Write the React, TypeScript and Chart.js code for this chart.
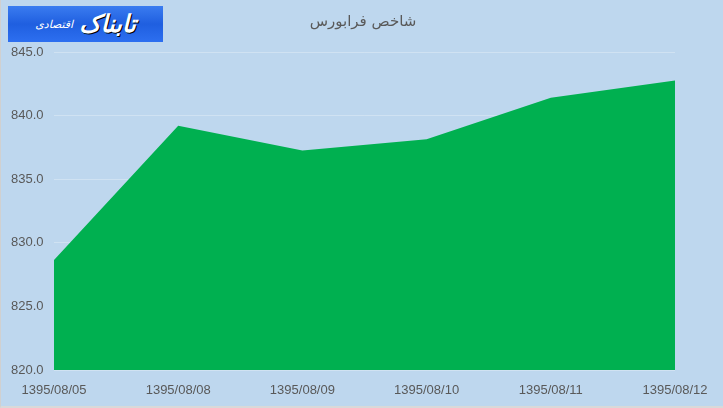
import Chart from "chart.js/auto";
import { useEffect, useRef } from "react";

const dates: string[] = [
  "1395/08/05",
  "1395/08/08",
  "1395/08/09",
  "1395/08/10",
  "1395/08/11",
  "1395/08/12",
];
const indexValues: number[] = [828.65, 839.2, 837.25, 838.15, 841.4, 842.75];
const yMin = 820;
const yMax = 845;
const yStep = 5;

const chartTitle = "شاخص فرابورس";
const logoText = "تابناک";
const logoSub = "اقتصادی";

const bgColor = "#BED7EE";
const textColor = "#595959";

export default function App() {
  const ref = useRef<HTMLCanvasElement | null>(null);

  useEffect(() => {
    document.body.style.margin = "0";
    if (!ref.current) return;
    const ctx = ref.current.getContext("2d");
    if (!ctx) return;

    const chart = new Chart(ctx, {
      type: "line",
      data: {
        labels: dates,
        datasets: [
          {
            data: indexValues,
            fill: "start",
            backgroundColor: "#00B050",
            borderWidth: 0,
            pointRadius: 0,
            tension: 0,
          },
        ],
      },
      options: {
        animation: false,
        responsive: false,
        layout: { padding: { left: 10, right: 49, top: 52, bottom: 0 } },
        plugins: {
          legend: { display: false },
          tooltip: { enabled: false },
          title: { display: false },
        },
        scales: {
          x: {
            offset: false,
            grid: { display: false },
            border: { display: false },
            ticks: {
              color: textColor,
              font: { family: "Liberation Sans", size: 13 },
              padding: 5,
              maxRotation: 0,
              autoSkip: false,
            },
            afterFit: (scale: any) => {
              scale.height = 38;
            },
          },
          y: {
            min: yMin,
            max: yMax,
            grid: {
              color: "rgba(255,255,255,0.28)",
              drawTicks: false,
            },
            border: { display: false },
            ticks: {
              stepSize: yStep,
              color: textColor,
              crossAlign: "far",
              padding: 0,
              font: { family: "Liberation Sans", size: 13 },
              callback: (v: any) => Number(v).toFixed(1),
            },
            afterFit: (scale: any) => {
              scale.width = 43;
            },
          },
        },
      },
      plugins: [
        {
          id: "titleText",
          afterDraw: (c: Chart) => {
            const g = c.ctx;
            g.save();
            g.font = "15px 'DejaVu Sans'";
            g.fillStyle = textColor;
            g.textAlign = "center";
            g.textBaseline = "middle";
            g.fillText(chartTitle, 362, 22);
            g.restore();
          },
        },
      ],
    });

    return () => chart.destroy();
  }, []);

  return (
    <div
      style={{
        position: "relative",
        width: 723,
        height: 408,
        background: bgColor,
        boxSizing: "border-box",
        borderLeft: "1px solid #d0d0d0",
        borderBottom: "2px solid #d9d9d9",
      }}
    >
      <canvas
        ref={ref}
        width={723}
        height={408}
        style={{ position: "absolute", left: 0, top: 0 }}
      />
      <div
        dir="rtl"
        style={{
          position: "absolute",
          left: 7,
          top: 6,
          width: 155,
          height: 36,
          background: "linear-gradient(180deg, #3a7cf0 0%, #1f5fe0 50%, #2d6ff0 100%)",
          display: "flex",
          alignItems: "center",
          justifyContent: "center",
          gap: 6,
          color: "white",
          fontFamily: "'DejaVu Sans'",
          overflow: "hidden",
        }}
      >
        <span style={{ fontSize: 24, fontWeight: "bold", fontStyle: "italic", textShadow: "1px 1px 0 #000" }}>
          {logoText}
        </span>
        <span style={{ fontSize: 11, fontStyle: "italic" }}>{logoSub}</span>
      </div>
    </div>
  );
}
